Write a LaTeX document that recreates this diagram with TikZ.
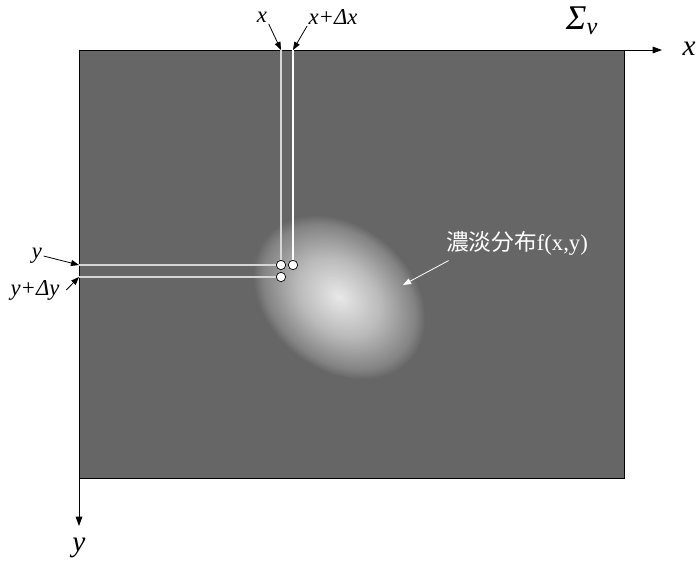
\documentclass[tikz,border=0pt]{standalone}
\usepackage{fontspec}
\setmainfont{Liberation Serif}
\newfontfamily\jpfont{Noto Sans CJK JP}
\usetikzlibrary{arrows.meta}
\definecolor{platefill}{HTML}{666666}
\definecolor{blobcore}{HTML}{E8E8E8}
\definecolor{blobmid}{HTML}{BABABA}
\definecolor{blobrim}{HTML}{838383}
\definecolor{stripline}{HTML}{D6D6D6}
\pgfdeclareradialshading{blobshade}{\pgfpoint{0bp}{0bp}}{%
  color(0bp)=(blobcore); color(12bp)=(blobmid);
  color(22bp)=(blobrim); color(25bp)=(platefill); color(50bp)=(platefill)}

\begin{document}
\begin{tikzpicture}[
  x=0.75pt, y=-0.75pt,
  lbl/.style  = {font=\itshape\fontsize{17}{17}\selectfont, inner sep=1pt},
  axl/.style  = {font=\itshape\fontsize{22}{22}\selectfont, inner sep=1pt},
  ax/.style   = {-{Triangle[length=7pt,width=5pt]}, line width=0.6pt},
  ptr/.style  = {-{Triangle[length=6pt,width=4.5pt]}, line width=0.6pt},
  ptrw/.style = {-{Triangle[length=6pt,width=4.5pt]}, draw=white, line width=0.6pt},
  strip/.style= {draw=stripline, line width=0.9pt},
  dot/.style  = {circle, draw=black, fill=white, line width=0.5pt, inner sep=0pt, minimum size=7pt},
]
\useasboundingbox (0,0) rectangle (699,561);

% --- the plate and its density blob ---------------------------------------------------------------
\fill[platefill] (79,50) rectangle (624,478);
\begin{scope}[transform canvas={shift={(339,297)}, rotate=-40}]
  \shade[shading=blobshade] (0,0) ellipse [x radius=95, y radius=72];
\end{scope}
\draw[line width=0.5pt] (79,50) rectangle (624,478);

% --- the axes --------------------------------------------------------------------------------------
\coordinate (o) at (79,50);
\coordinate (xtip) at (662,50);
\coordinate (ytip) at (79,526);
\draw[ax] (o) -- (xtip);
\draw[ax] (o) -- (ytip);
\node[axl] (xax) at (689,49) {x};
\node[axl] (yax) at (79,548) {y};
\node[font=\fontsize{26}{26}\selectfont, inner sep=1pt] (sig) at (582,21) {\textit{Σ}\textsubscript{\textit{v}}};

% --- the two strips and their corner dots ----------------------------------------------------------
\node[dot] (d1) at (281,265) {};
\node[dot] (d2) at (293,265) {};
\node[dot] (d3) at (281,277) {};
\coordinate (xtop)  at (281,50);
\coordinate (dxtop) at (293,50);
\coordinate (yleft)  at (79,265);
\coordinate (dyleft) at (79,277);
\draw[strip] (xtop) -- (d1);
\draw[strip, draw=white] (dxtop) -- (d2);
\draw[strip] (yleft) -- (d1);
\draw[strip] (dyleft) -- (d3);

% --- labels with pointers --------------------------------------------------------------------------
\node[lbl] (xl)  at (262,17) {x};
\node[lbl] (dxl) at (333,17) {x+Δx};
\node[lbl] (yl)  at (37,256) {y};
\node[lbl] (dyl) at (35,290) {y+Δy};
\draw[ptr] (xl.south east) -- (xtop);
\draw[ptr] (dxl.south west) -- (dxtop);
\draw[ptr] (yl.east) -- (yleft);
\draw[ptr] ([xshift=4pt]dyl.east) -- (dyleft);

\node[text=white, inner sep=1pt, font=\fontsize{17}{17}\selectfont] (conc) at (517,243)
  {{\jpfont 濃淡分布}f(x,y)};
\coordinate (blobtip) at (403,285);
\draw[ptrw] ([xshift=3pt,yshift=-3pt]conc.south west) -- (blobtip);

\end{tikzpicture}
\end{document}
